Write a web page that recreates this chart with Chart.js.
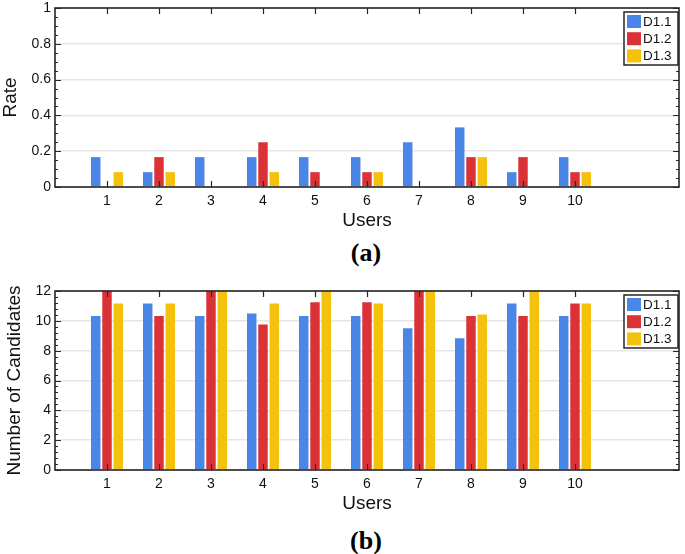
<!DOCTYPE html>
<html>
<head>
<meta charset="utf-8">
<script src="https://cdn.jsdelivr.net/npm/chart.js@4"></script>
<style>
  html, body { margin: 0; padding: 0; background: #fff; }
  #wrap { position: relative; width: 685px; height: 554px; overflow: hidden; }
  canvas { position: absolute; left: 0; }
  .cap { position: absolute; left: 48px; width: 636px; text-align: center;
         font: bold 26px "Liberation Serif", "Times New Roman", serif; line-height: 30px; color: #000; }
</style>
</head>
<body>
<div id="wrap">
  <canvas id="rate" width="685" height="240" style="top:-3px"></canvas>
  <div class="cap" style="top:238px">(a)</div>
  <canvas id="cand" width="685" height="240" style="top:280px"></canvas>
  <div class="cap" style="top:526px">(b)</div>
</div>
<script>
// data (rates are multiples of 1/12)
var users = [1, 2, 3, 4, 5, 6, 7, 8, 9, 10];
var seriesNames = ['D1.1', 'D1.2', 'D1.3'];

var rateD11 = [0.167, 0.083, 0.167, 0.167, 0.167, 0.167, 0.25, 0.333, 0.083, 0.167];
var rateD12 = [0, 0.167, 0, 0.25, 0.083, 0.083, 0, 0.167, 0.167, 0.083];
var rateD13 = [0.083, 0.083, 0, 0.083, 0, 0.083, 0, 0.167, 0, 0.083];

// values above 12 are cut off by the axis in the original
var candD11 = [10.33, 11.17, 10.33, 10.5, 10.33, 10.33, 9.5, 8.83, 11.17, 10.33];
var candD12 = [12.5, 10.33, 12.5, 9.75, 11.25, 11.25, 12.5, 10.33, 10.33, 11.17];
var candD13 = [11.17, 11.17, 12.5, 11.17, 12.5, 11.17, 12.5, 10.42, 12.5, 11.17];

var colors = ['#4a86e8', '#db3236', '#f4c20d'];
var ink = '#262626';

Chart.defaults.font.family = '"Liberation Sans", Arial, Helvetica, sans-serif';
Chart.defaults.font.size = 14;
Chart.defaults.color = '#111';

// box, inward ticks and legend drawn like the matlab axes
var framePlugin = {
  id: 'frame',
  afterDatasetsDraw: function(chart, args, opts) {
    var ctx = chart.ctx, a = chart.chartArea;
    var xs = chart.scales.x, ys = chart.scales.y;
    ctx.save();
    ctx.strokeStyle = ink;
    ctx.lineWidth = 1.2;
    ctx.beginPath();
    users.forEach(function(u) {
      var px = Math.round(xs.getPixelForValue(u)) + 0.5;
      ctx.moveTo(px, a.top); ctx.lineTo(px, a.top + 6);
      ctx.moveTo(px, a.bottom); ctx.lineTo(px, a.bottom - 6);
    });
    var n = Math.round((ys.max - ys.min) / opts.minorStep);
    for (var i = 0; i <= n; i++) {
      var v = ys.min + i * opts.minorStep;
      var major = Math.abs(v / opts.majorStep - Math.round(v / opts.majorStep)) < 1e-6;
      var len = major ? 6 : 3;
      var py = Math.round(ys.getPixelForValue(v)) + 0.5;
      ctx.moveTo(a.left, py); ctx.lineTo(a.left + len, py);
      ctx.moveTo(a.right, py); ctx.lineTo(a.right - len, py);
    }
    ctx.stroke();
    ctx.lineWidth = 1.6;
    ctx.strokeRect(a.left, a.top, a.right - a.left, a.bottom - a.top);
    ctx.restore();
  },
  afterDraw: function(chart) {
    var ctx = chart.ctx, a = chart.chartArea;
    var L = a.right - 55, T = a.top + 4;
    ctx.save();
    ctx.fillStyle = '#fff';
    ctx.fillRect(L, T, 54, 53);
    ctx.strokeStyle = ink;
    ctx.lineWidth = 1.5;
    ctx.strokeRect(L, T, 54, 53);
    ctx.font = '13.5px "Liberation Sans", Arial, sans-serif';
    ctx.textBaseline = 'middle';
    chart.data.datasets.forEach(function(ds, i) {
      var cy = T + 9.5 + i * 17.2;
      ctx.fillStyle = ds.backgroundColor;
      ctx.fillRect(L + 3, cy - 6.5, 14, 13);
      ctx.fillStyle = '#111';
      ctx.fillText(ds.label, L + 19, cy + 0.5);
    });
    ctx.restore();
  }
};

function makeChart(id, series, yMax, yStep, minorStep, yTitle, yTitlePad) {
  return new Chart(document.getElementById(id), {
    type: 'bar',
    data: {
      datasets: series.map(function(vals, i) {
        return {
          label: seriesNames[i],
          data: users.map(function(u, k) { return { x: u, y: vals[k] }; }),
          backgroundColor: colors[i],
          borderWidth: 0,
          categoryPercentage: 0.65,
          barPercentage: 0.84
        };
      })
    },
    options: {
      responsive: false,
      animation: false,
      layout: { padding: { top: 0, right: 1, left: 0, bottom: 0 } },
      plugins: {
        legend: { display: false },
        tooltip: { enabled: false },
        frame: { minorStep: minorStep, majorStep: yStep }
      },
      scales: {
        x: {
          type: 'linear',
          offset: false,
          min: 0, max: 12,
          grid: { display: false, drawTicks: false, offset: false },
          border: { display: false },
          ticks: {
            stepSize: 1, autoSkip: false, maxRotation: 0, padding: 6,
            callback: function(v) { return (v >= 1 && v <= 10) ? v : ''; }
          },
          title: { display: true, text: 'Users', font: { size: 19 }, padding: { top: 0, bottom: 5 } },
          afterFit: function(s) { s.height = 50; }
        },
        y: {
          min: 0, max: yMax,
          grid: { color: '#e6e6e6', lineWidth: 1.6, drawTicks: false },
          border: { display: false },
          ticks: {
            stepSize: yStep, padding: 4, font: { size: 14, lineHeight: 1 },
            callback: function(v) { return String(Number(v.toFixed(2))); }
          },
          title: { display: true, text: yTitle, font: { size: 19 }, padding: { top: yTitlePad, bottom: 0 } },
          afterFit: function(s) { s.width = 55; }
        }
      }
    },
    plugins: [framePlugin]
  });
}

makeChart('rate', [rateD11, rateD12, rateD13], 1, 0.2, 0.05, 'Rate', -1);
makeChart('cand', [candD11, candD12, candD13], 12, 2, 0.4, 'Number of Candidates', 3);
</script>
</body>
</html>
